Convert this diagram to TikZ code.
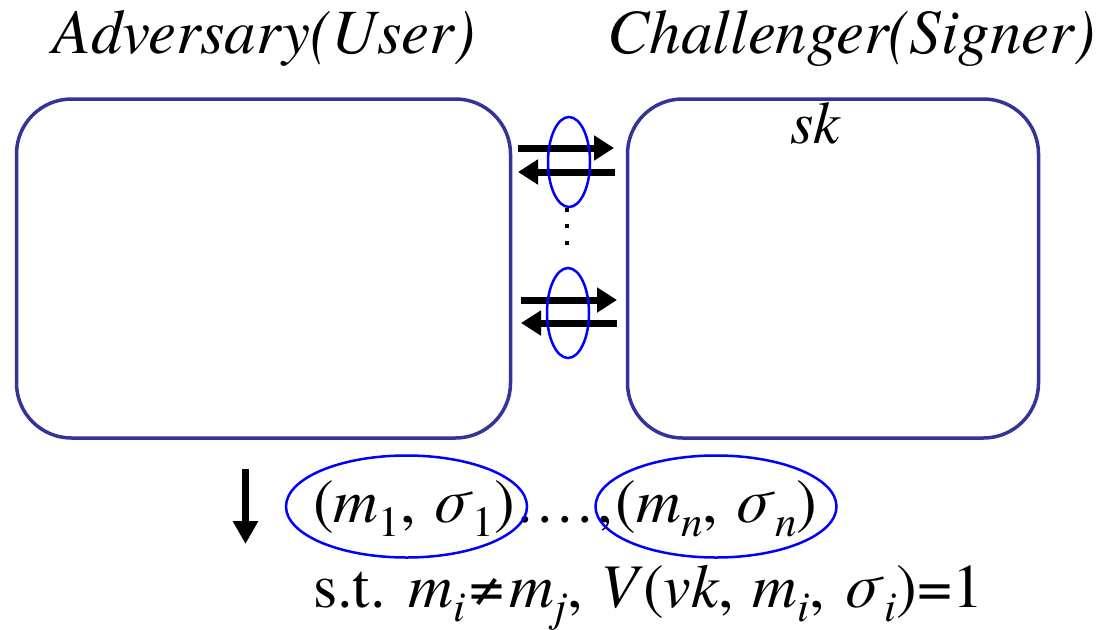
\documentclass[tikz,border=0pt]{standalone}
\usepackage{fontspec}
\setmainfont{texgyretermes-regular.otf}[ItalicFont=texgyretermes-italic.otf, BoldFont=texgyretermes-bold.otf]
\usetikzlibrary{shapes.geometric,arrows.meta}
\newcommand{\lo}[1]{\raisebox{-14pt}{\fontsize{43}{43}\selectfont #1}}
\newcommand{\pdot}{.\kern4.5pt}
\newcommand{\widesp}{\spaceskip=18pt\relax}
\definecolor{boxblue}{HTML}{333399}
\tikzset{
  party/.style={draw=boxblue, line width=3.5pt, rounded corners=55pt, minimum height=339pt, inner sep=0pt},
  ring/.style={ellipse, draw=blue, line width=2.5pt, inner sep=0pt},
  msg/.style={line width=7pt, -{Triangle[length=20pt,width=24pt]}},
  title/.style={font=\fontsize{63}{63}\selectfont\itshape, inner sep=0pt, anchor=base},
  formula/.style={font=\fontsize{62}{62}\selectfont, inner sep=0pt, anchor=base west},
  dot/.style={fill=black, minimum size=4pt, inner sep=0pt}
}
\begin{document}
\begin{tikzpicture}[x=1pt,y=-1pt]
\useasboundingbox (0,0) rectangle (1105,629);
\node[party, minimum width=494pt] (adv) at (263.5,268.5) {};
\node[party, minimum width=411pt] (chal) at (833,268.5) {};
\node[title] (tadv) at (264,53) {Adversary(User)};
\node[title] (tchal) at (851.5,53) {Challenger(Signer)};
\node[font=\fontsize{60}{60}\selectfont\itshape, inner sep=0pt, anchor=base] (sk) at (815,143) {sk};
% top exchange
\coordinate (a1) at (518,148); \coordinate (b1) at (614,148);
\coordinate (a2) at (518,172); \coordinate (b2) at (615,172);
\draw[msg] (a1) -- (b1);
\draw[msg] (b2) -- (a2);
\node[ring, minimum width=42pt, minimum height=90pt] (r1) at (569,162) {};
% dots
\node[dot] (d1) at (567,210) {};
\node[dot] (d2) at (567,226) {};
\node[dot] (d3) at (567,243) {};
% bottom exchange
\coordinate (a3) at (521,300); \coordinate (b3) at (617,300);
\coordinate (a4) at (521,323); \coordinate (b4) at (617,323);
\draw[msg] (a3) -- (b3);
\draw[msg] (b4) -- (a4);
\node[ring, minimum width=42pt, minimum height=90pt] (r2) at (568,313) {};
% output
\coordinate (o1) at (245.5,469); \coordinate (o2) at (245.5,544);
\draw[line width=7pt, -{Triangle[length=23pt,width=24pt]}] (o1) -- (o2);
\node[formula] (f1) at (313,522) {(\textit{m}\lo{1}, \textit{σ}\lo{1})\kern2pt\pdot\pdot\pdot\pdot,\kern3pt(\textit{m}\lo{\textit{n}}, \textit{σ}\lo{\textit{n}})};
\node[formula] (f2) at (313,607) {\widesp s.t. \textit{m}\lo{\textit{i}}\kern4pt≠\kern5pt\textit{m}\lo{\textit{j}}, \textit{V}(\textit{vk}, \textit{m}\lo{\textit{i}}, \textit{σ}\lo{\textit{i}})=1};
\node[ring, minimum width=241pt, minimum height=102pt] (e1) at (406.5,506.5) {};
\node[ring, minimum width=241pt, minimum height=102pt] (e2) at (716,506.5) {};
\end{tikzpicture}
\end{document}
